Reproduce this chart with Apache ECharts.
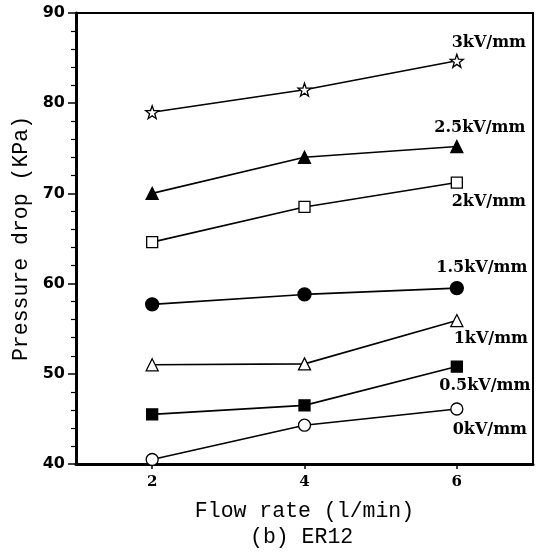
<!DOCTYPE html>
<html>
<head>
<meta charset="utf-8">
<script src="https://cdn.jsdelivr.net/npm/echarts@6/dist/echarts.min.js"></script>
<style>
html,body{margin:0;padding:0;background:#fff;}
#chart{width:541px;height:552px;}
</style>
</head>
<body>
<div id="chart"></div>
<script>
const flowRates = [2, 4, 6];
const seriesNames = ['3kV/mm', '2.5kV/mm', '2kV/mm', '1.5kV/mm', '1kV/mm', '0.5kV/mm', '0kV/mm'];
const kv3  = [79.0, 81.5, 84.7];
const kv25 = [70.0, 74.0, 75.2];
const kv2  = [64.6, 68.5, 71.2];
const kv15 = [57.7, 58.8, 59.5];
const kv1  = [51.0, 51.1, 55.9];
const kv05 = [45.5, 46.5, 50.8];
const kv0  = [40.5, 44.3, 46.1];
const xTicks = [2, 4, 6];
const yTicks = [40, 50, 60, 70, 80, 90];
const xTitle = 'Flow rate (l/min)';
const yTitle = 'Pressure drop (KPa)';
const caption = '(b) ER12';

const starPath = 'path://M0,-10 L2.35,-3.24 L9.51,-3.09 L3.80,1.24 L5.88,8.09 L0,4 L-5.88,8.09 L-3.80,1.24 L-9.51,-3.09 L-2.35,-3.24 Z';
const monoFont = 'Liberation Mono';
const labelFont = {fontFamily: 'DejaVu Serif', fontWeight: 'bold', fontSize: 16, color: '#000'};

function pairs(vals) { return flowRates.map((x, i) => [x, vals[i]]); }

const styles = [
  {vals: kv3,  symbol: starPath,   size: 13, fill: '#fff', off: [32, -18]},
  {vals: kv25, symbol: 'triangle', size: 12, fill: '#000', off: [23, -19]},
  {vals: kv2,  symbol: 'rect',     size: 11, fill: '#fff', off: [32, 19]},
  {vals: kv15, symbol: 'circle',   size: 13, fill: '#000', off: [25, -20]},
  {vals: kv1,  symbol: 'triangle', size: 12, fill: '#fff', off: [34, 18]},
  {vals: kv05, symbol: 'rect',     size: 11, fill: '#000', off: [28, 19]},
  {vals: kv0,  symbol: 'circle',   size: 12, fill: '#fff', off: [33, 21]}
];

const series = styles.map((s, k) => {
  const d = pairs(s.vals);
  const last = d.length - 1;
  return {
    name: seriesNames[k],
    type: 'line',
    data: d.map((p, i) => i === last ? {
      value: p,
      label: Object.assign({show: true, position: 'inside', offset: s.off, formatter: seriesNames[k]}, labelFont)
    } : p),
    symbol: s.symbol,
    symbolSize: s.size,
    showAllSymbol: true,
    lineStyle: {color: '#000', width: 1.6},
    itemStyle: {color: s.fill, borderColor: '#000', borderWidth: 1.3},
    emphasis: {disabled: true},
    animation: false,
    z: 3
  };
});

const chart = echarts.init(document.getElementById('chart'), null, {renderer: 'canvas'});
chart.setOption({
  backgroundColor: '#fff',
  animation: false,
  title: {
    text: caption,
    left: 250,
    top: 526,
    padding: 0,
    textStyle: {fontFamily: monoFont, fontSize: 21.5, fontWeight: 'normal', color: '#000'}
  },
  grid: {
    left: 76, right: 8, top: 13, bottom: 88,
    show: true, borderColor: '#000', borderWidth: 2, backgroundColor: 'transparent'
  },
  xAxis: {
    type: 'value',
    min: 1, max: 7, interval: 1,
    name: xTitle,
    nameLocation: 'middle',
    nameGap: 36,
    nameTextStyle: {fontFamily: monoFont, fontSize: 21.5, color: '#000'},
    axisLine: {show: true, lineStyle: {color: '#000', width: 3}},
    axisTick: {show: true, length: 5, lineStyle: {color: '#000', width: 1.5}, customValues: xTicks},
    axisLabel: {customValues: xTicks, fontFamily: 'DejaVu Serif', fontWeight: 'bold', fontSize: 15, color: '#000', margin: 11},
    splitLine: {show: false}
  },
  yAxis: {
    type: 'value',
    min: 40, max: 90, interval: 10,
    name: yTitle,
    nameLocation: 'middle',
    nameGap: 43,
    nameTextStyle: {fontFamily: monoFont, fontSize: 21.5, color: '#000'},
    axisLine: {show: true, lineStyle: {color: '#000', width: 3}},
    axisTick: {show: true, length: 8, lineStyle: {color: '#000', width: 1.5}},
    minorTick: {show: true, splitNumber: 5, length: 5, lineStyle: {color: '#000', width: 1.2}},
    axisLabel: {fontFamily: 'DejaVu Sans', fontWeight: 'bold', fontSize: 16, color: '#000', margin: 11,
      formatter: v => yTicks.indexOf(v) >= 0 ? String(v) : ''},
    splitLine: {show: false},
    minorSplitLine: {show: false}
  },
  series: series
});
</script>
</body>
</html>
